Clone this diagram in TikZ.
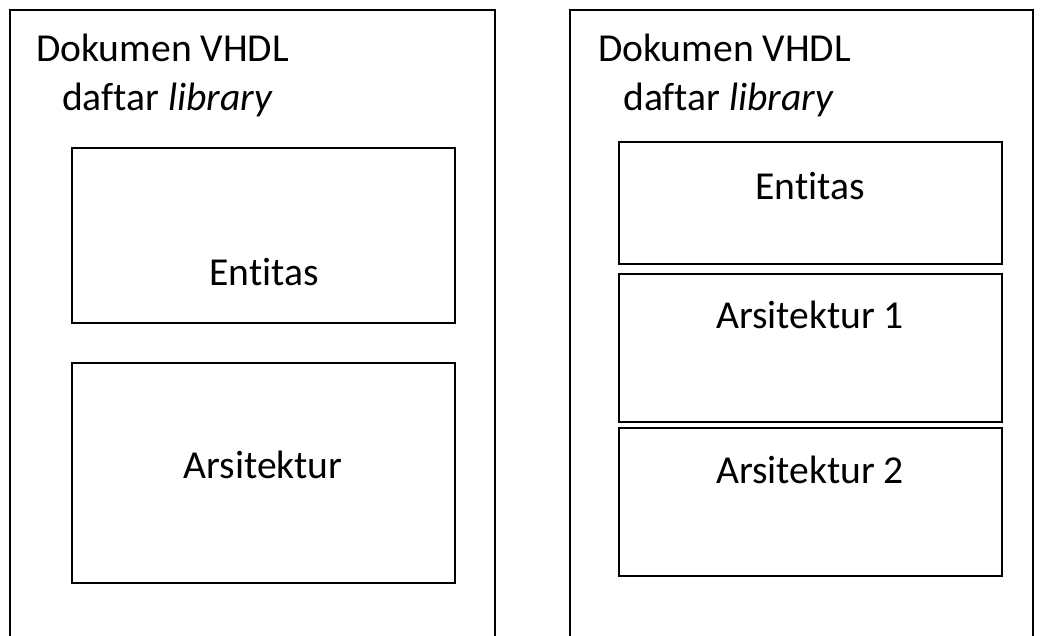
\documentclass[tikz,border=0pt]{standalone}
\usepackage{fontspec}
\setmainfont{Carlito}[Ligatures=NoCommon]
\usepackage{tikz}
\usetikzlibrary{positioning}

\begin{document}
\begin{tikzpicture}[x=1pt,y=-1pt]
		\useasboundingbox (0,0) rectangle (1043,635);
		\tikzset{part/.style={draw,line width=2.4pt,inner sep=0pt},
		         lbl/.style={font=\fontsize{39.6}{48}\selectfont}}

		% dokumen frames (open below)
		\begin{scope}[line width=1.6pt]
			\draw (10,640) -- (10,10) -- (495,10) -- (495,640);
			\draw (570,640) -- (570,10) -- (1033,10) -- (1033,640);
		\end{scope}

		\begin{scope}[every node/.style={lbl,anchor=base west,inner sep=0pt}]
			\node (doc1) at (36,61) {Dokumen VHDL};
			\node (lib1) at (62,110) {daftar \textit{library}};
			\node (doc2) at (598,61) {Dokumen VHDL};
			\node (lib2) at (623,110) {daftar \textit{library}};
		\end{scope}

		\begin{scope}[every node/.style={part,minimum width=383pt}]
			\node (ent1) [minimum height=175pt] at (263.5,235.5) {};
			\node (ars1) [minimum height=220pt] at (263.5,473) {};
			\node (ent2) [minimum height=122pt] at (810.5,203) {};
			\node (arsA) [minimum height=148pt] at (810.5,348) {};
			\node (arsB) [minimum height=148pt] at (810.5,502) {};
		\end{scope}

		\begin{scope}[every node/.style={lbl,inner sep=0pt}]
			\node at (264,272) {Entitas};
			\node at (263,465) {Arsitektur};
			\node at (810,186) {Entitas};
			\node at (810,315) {Arsitektur 1};
			\node at (810,470) {Arsitektur 2};
		\end{scope}
		\end{tikzpicture}
\end{document}
